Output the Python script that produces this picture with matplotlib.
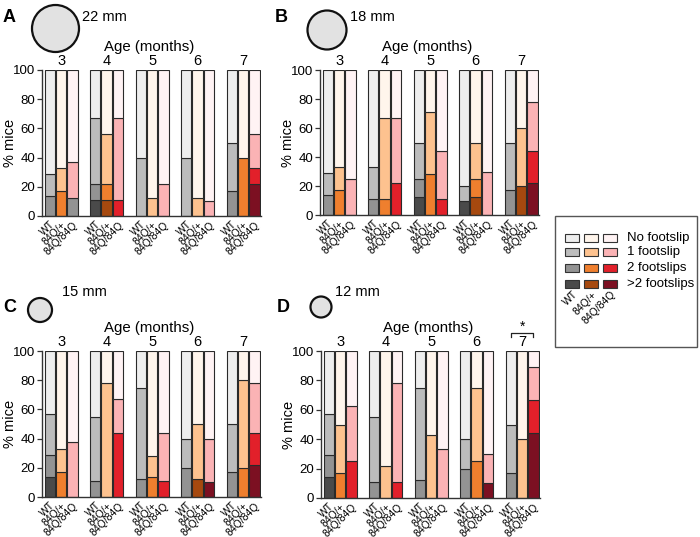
import matplotlib
matplotlib.use('Agg')
import matplotlib.pyplot as plt
from matplotlib.patches import Ellipse, Rectangle

plt.rcParams['font.family'] = ['Liberation Sans', 'DejaVu Sans']

# ---------------- data ----------------
ages = ['3', '4', '5', '6', '7']
genotypes = ['WT', '84Q/+', '84Q/84Q']
levels = ['No footslip', '1 footslip', '2 footslips', '>2 footslips']
sizes = ['22 mm', '18 mm', '15 mm', '12 mm']
letters = ['A', 'B', 'C', 'D']

# percentages of mice per bar (ordered age-major, genotype-minor)
A_gt2 = [0, 0, 0, 11, 11, 0, 0, 0, 0, 0, 0, 0, 0, 0, 22]
A_two = [14, 17, 12, 11, 11, 11, 0, 0, 0, 0, 0, 0, 17, 40, 11]
A_one = [15, 16, 25, 45, 34, 56, 40, 12.5, 22, 40, 12.5, 10, 33, 0, 23]

B_gt2 = [0, 0, 0, 0, 0, 0, 12.5, 0, 0, 10, 12.5, 0, 0, 20, 22]
B_two = [14, 17, 0, 11, 11, 22, 12.5, 28, 11, 0, 12.5, 0, 17, 0, 22]
B_one = [15, 16, 25, 22, 56, 45, 25, 43, 33, 10, 25, 30, 33, 40, 34]

C_gt2 = [14, 0, 0, 0, 0, 0, 0, 0, 0, 0, 12.5, 10, 0, 0, 22]
C_two = [15, 17, 0, 11, 0, 44, 12.5, 14, 11, 20, 0, 0, 17, 20, 22]
C_one = [28, 16, 37.5, 44, 78, 23, 62.5, 14, 33, 20, 37.5, 30, 33, 60, 34]

D_gt2 = [14, 0, 0, 0, 0, 0, 0, 0, 0, 0, 0, 10, 0, 0, 44]
D_two = [15, 17, 25, 11, 0, 11, 12.5, 0, 0, 20, 25, 0, 17, 0, 23]
D_one = [28, 33, 37.5, 44, 22, 67, 62.5, 43, 33, 20, 50, 20, 33, 40, 22]

# ---------------- styles ----------------
colors = {
    'WT':      ['#eeeeee', '#bcbcbc', '#939393', '#4a4a4a'],
    '84Q/+':   ['#fff5ec', '#fdc28f', '#ef7f2e', '#a6490f'],
    '84Q/84Q': ['#fff3f4', '#fbb3b5', '#e2202a', '#7c1022'],
}
# in the original, panel A / age 3 / 84Q/84Q "2 footslips" segment is drawn in grey
color_override = {('A', 0, 2): '#939393'}

W, H = 700, 537
fig = plt.figure(figsize=(7.0, 5.37), dpi=100)


def fx(x):
    return x / W


def fy(y):
    return 1 - y / H


XMIN, XMAX = -0.68, 18.55
UNIT = 11.37
axw = (XMAX - XMIN) * UNIT

layout = {
    'A': dict(left=42, top=70, bottom=216, circ=(55.5, 28.5, 23.5), size_xy=(82, 17), let_xy=(3, 17)),
    'B': dict(left=320, top=70, bottom=215, circ=(327, 30, 19.5), size_xy=(350, 17), let_xy=(275, 17)),
    'C': dict(left=42, top=351, bottom=497, circ=(40, 310, 12), size_xy=(62, 292), let_xy=(3, 307)),
    'D': dict(left=321, top=351, bottom=498, circ=(321, 307, 10.5), size_xy=(335, 292), let_xy=(277, 308)),
}
data = {'A': (A_gt2, A_two, A_one), 'B': (B_gt2, B_two, B_one),
        'C': (C_gt2, C_two, C_one), 'D': (D_gt2, D_two, D_one)}

edge = '#2a2a2a'

for li, let in enumerate(letters):
    L = layout[let]
    ax = fig.add_axes([fx(L['left']), fy(L['bottom']), axw / W, (L['bottom'] - L['top']) / H])
    gt2, two, one = data[let]
    positions, labels = [], []
    for a in range(len(ages)):
        for g, gt in enumerate(genotypes):
            k = a * 3 + g
            x = a * 4 + g
            positions.append(x)
            labels.append(gt)
            segs = [gt2[k], two[k], one[k]]
            segs.append(100 - sum(segs))
            cols = [colors[gt][3], colors[gt][2], colors[gt][1], colors[gt][0]]
            if (let, a, g) in color_override:
                cols[1] = color_override[(let, a, g)]
            bottom = 0
            for v, c in zip(segs, cols):
                if v > 0:
                    ax.bar(x, v, bottom=bottom, width=0.9, color=c, edgecolor=edge,
                           linewidth=0.8, zorder=2)
                bottom += v
        ax.text(a * 4 + 1, 101.3, ages[a], ha='center', va='bottom', fontsize=10.5)
    ax.text((XMIN + XMAX) / 2 - 0.15, 115.8, 'Age (months)', ha='center', va='center', fontsize=10.8)
    ax.set_xlim(XMIN, XMAX)
    ax.set_ylim(0, 100)
    ax.set_yticks([0, 20, 40, 60, 80, 100])
    ax.tick_params(axis='y', labelsize=9.5, length=3.5, width=0.9, pad=1.5, color='#333333')
    ax.set_xticks(positions)
    ax.set_xticklabels(labels, rotation=45, ha='right', rotation_mode='anchor', fontsize=7.5)
    ax.tick_params(axis='x', length=0, pad=2.5)
    for s in ['top', 'right']:
        ax.spines[s].set_visible(False)
    for s in ['left', 'bottom']:
        ax.spines[s].set_linewidth(1.0)
        ax.spines[s].set_color('#333333')
    ax.set_ylabel('% mice', fontsize=10.5)
    ax.yaxis.set_label_coords(-(L['left'] - 17) / axw if L['left'] < 100 else -25 / axw, 0.5)
    ax.patch.set_alpha(0)

    if let == 'D':
        ax.plot([16, 16, 18, 18], [109.6, 112.1, 112.1, 109.6], color='#222222', lw=0.9,
                clip_on=False)
        ax.text(17, 112.0, '*', ha='center', va='bottom', fontsize=10)

    # disc, size text, panel letter
    cx, cy, r = L['circ']
    fig.add_artist(Ellipse((fx(cx), fy(cy)), 2 * r / W, 2 * r / H, transform=fig.transFigure,
                           facecolor='#e2e2e2', edgecolor='#111111', linewidth=1.6))
    sx, sy = L['size_xy']
    fig.text(fx(sx), fy(sy), sizes[li], ha='left', va='center', fontsize=10.5)
    lx, ly = L['let_xy']
    fig.text(fx(lx), fy(ly), let, ha='left', va='center', fontsize=13, fontweight='bold')

# ---------------- legend ----------------
fig.add_artist(Rectangle((fx(555), fy(347)), (697 - 555) / W, (347 - 216) / H,
                         transform=fig.transFigure, facecolor='white', edgecolor='#555555',
                         linewidth=1.0))
col_left = [565, 584, 603]
row_cy = [238, 252, 268, 284]
for gi, gt in enumerate(genotypes):
    for ri in range(4):
        fig.add_artist(Rectangle((fx(col_left[gi]), fy(row_cy[ri] + 4)), 14 / W, 8 / H,
                                 transform=fig.transFigure, facecolor=colors[gt][ri],
                                 edgecolor='#333333', linewidth=0.8))
    fig.text(fx(col_left[gi] + 11), fy(293), gt, rotation=45, ha='right', va='center',
             rotation_mode='anchor', fontsize=7.5)
for ri in range(4):
    fig.text(fx(627), fy(row_cy[ri]), levels[ri], ha='left', va='center', fontsize=9.5)

fig.savefig('out.png', dpi=100)
